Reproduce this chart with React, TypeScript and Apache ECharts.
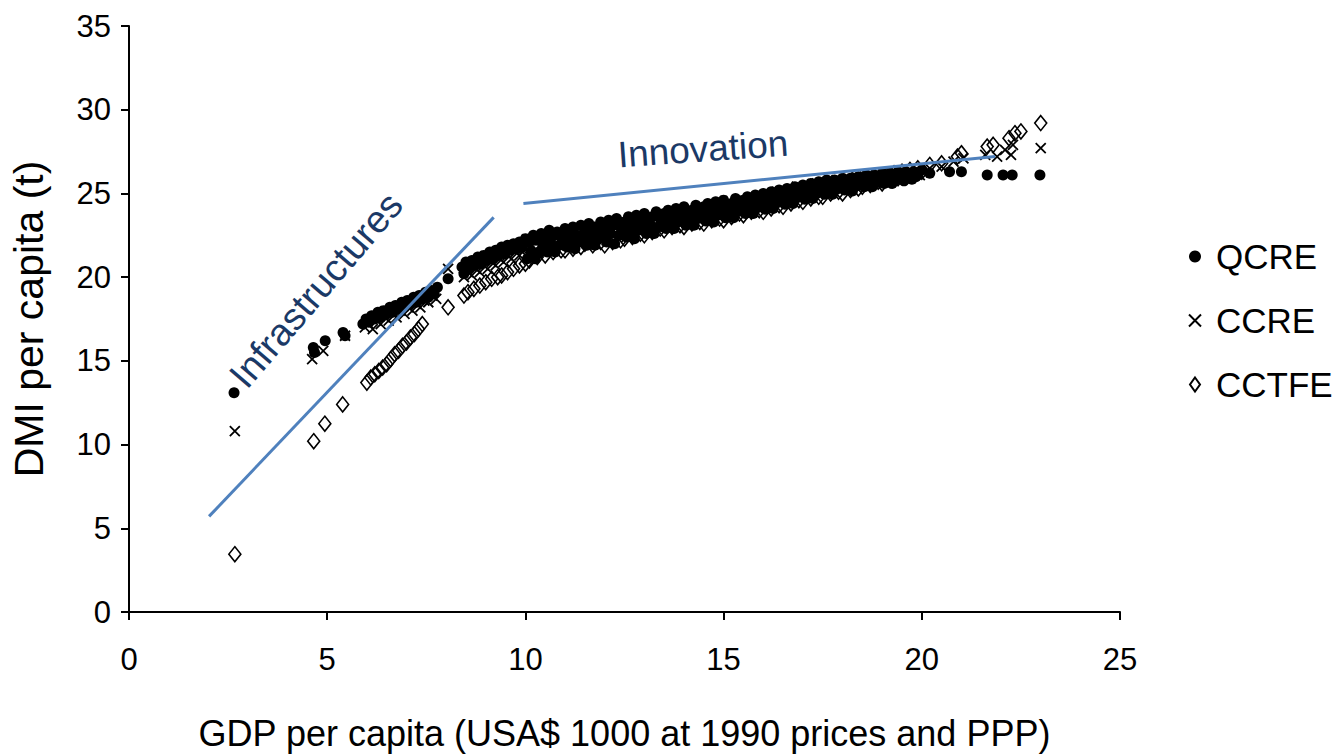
import React, { useEffect, useRef } from "react";
import * as echarts from "echarts";

// ---- Data (x: GDP per capita, y: DMI per capita) ----
const seriesNames = ["QCRE", "CCRE", "CCTFE"];

// QCRE: upper part of the cloud
const qcre: [number, number][] = [
  [2.65, 13.1], [4.65, 15.8], [4.68, 15.5], [4.95, 16.2], [5.4, 16.7], [5.45, 16.5],
  [5.9, 17.2], [5.98, 17.5], [6.05, 17.3], [6.12, 17.7], [6.2, 17.5], [6.28, 17.9], [6.35, 17.6], [6.42, 18.0],
  [6.5, 17.8], [6.58, 18.2], [6.65, 17.9], [6.72, 18.3], [6.8, 18.1], [6.88, 18.5], [6.95, 18.2], [7.02, 18.6],
  [7.1, 18.4], [7.18, 18.8], [7.25, 18.5], [7.32, 18.9], [7.4, 18.7], [7.48, 19.1], [7.55, 18.8], [7.62, 19.2],
  [7.7, 19.0], [7.78, 19.4], [8.05, 19.9],
  [8.4, 20.6], [8.45, 20.2], [8.5, 20.9], [8.58, 20.5], [8.65, 21.0], [8.72, 20.7], [8.8, 21.2], [8.88, 20.8],
  [8.95, 21.3], [9.02, 21.0], [9.1, 21.5], [9.18, 21.1], [9.25, 21.6], [9.32, 21.3], [9.4, 21.8], [9.48, 21.4],
  [9.55, 21.9], [9.62, 21.6], [9.7, 22.0], [9.78, 21.7], [9.85, 22.1], [9.92, 21.8],
  [10.0, 22.3], [10.1, 22.1], [10.2, 22.5], [10.3, 22.2], [10.4, 22.6], [10.5, 22.4], [10.6, 22.8], [10.7, 22.5],
  [10.8, 22.7], [10.9, 22.4], [11.0, 22.9], [11.1, 22.6], [11.2, 23.0], [11.3, 22.5], [11.4, 23.1], [11.5, 22.8],
  [11.6, 23.2], [11.7, 22.7], [11.8, 23.0], [11.9, 23.3], [12.0, 22.9], [12.1, 23.4], [12.2, 23.1], [12.3, 23.5],
  [12.4, 23.0], [12.5, 23.3], [12.6, 23.6], [12.7, 23.2], [12.8, 23.7], [12.9, 23.4], [13.0, 23.8], [13.1, 23.3],
  [13.2, 23.6], [13.3, 23.9], [13.4, 23.5], [13.5, 23.8], [13.6, 24.0], [13.7, 23.6], [13.8, 24.1], [13.9, 23.8],
  [14.0, 24.2], [14.1, 23.7], [14.2, 24.0], [14.3, 24.3], [14.4, 23.9], [14.5, 24.2], [14.6, 24.4], [14.7, 24.0],
  [14.8, 24.5], [14.9, 24.2], [15.0, 24.6], [15.1, 24.1], [15.2, 24.4], [15.3, 24.7], [15.4, 24.3], [15.5, 24.6],
  [15.6, 24.8], [15.7, 24.4], [15.8, 24.9], [15.9, 24.6], [16.0, 25.0], [16.1, 24.7], [16.2, 25.1], [16.3, 24.8],
  [16.4, 25.2], [16.5, 24.9], [16.6, 25.3], [16.7, 25.0], [16.8, 25.4], [16.9, 25.1], [17.0, 25.5], [17.1, 25.2],
  [17.2, 25.6], [17.3, 25.3], [17.4, 25.7], [17.5, 25.4], [17.6, 25.8], [17.7, 25.5], [17.8, 25.8], [17.9, 25.6],
  [18.0, 25.9], [18.1, 25.6], [18.2, 25.9], [18.3, 25.7], [18.4, 26.0], [18.5, 25.8], [18.6, 26.1], [18.7, 25.8],
  [18.8, 26.1], [18.9, 25.9], [19.0, 26.2], [19.1, 25.9], [19.2, 26.2], [19.3, 26.0], [19.4, 26.3], [19.5, 26.0],
  [19.6, 26.3], [19.7, 26.1], [19.8, 26.3], [19.9, 26.1], [20.0, 26.4], [20.2, 26.2], [20.7, 26.3], [21.0, 26.3],
  [21.65, 26.1], [22.05, 26.1], [22.28, 26.1], [22.98, 26.1],
  // QCRE observations lying in the lower half of the cloud
  [10.05, 21.1], [10.15, 21.55], [10.25, 21.1], [10.35, 21.5], [10.45, 21.85], [10.55, 21.5], [10.65, 21.95],
  [10.75, 21.5], [10.85, 21.9], [10.95, 22.2], [11.05, 21.8], [11.15, 22.2], [11.25, 21.7], [11.35, 22.1],
  [11.45, 22.4], [11.55, 21.9], [11.65, 22.4], [11.75, 21.9], [11.85, 22.3], [11.95, 22.6], [12.05, 22.1],
  [12.15, 22.6], [12.25, 22.0], [12.35, 22.5], [12.45, 22.8], [12.55, 22.4], [12.65, 22.85], [12.75, 22.3],
  [12.85, 22.8], [12.95, 23.1], [13.05, 22.6], [13.15, 23.05], [13.25, 22.6], [13.35, 23.0], [13.45, 23.3],
  [13.55, 22.9], [13.65, 23.3], [13.75, 22.9], [13.85, 23.3], [13.95, 23.55], [14.05, 23.1], [14.15, 23.5],
  [14.25, 23.1], [14.35, 23.5], [14.45, 23.7], [14.55, 23.35], [14.65, 23.7], [14.75, 23.3], [14.85, 23.7],
  [14.95, 23.9], [15.05, 23.55], [15.15, 23.95], [15.25, 23.55], [15.35, 23.9], [15.45, 24.15], [15.55, 23.8],
  [15.65, 24.2], [15.75, 23.8], [15.85, 24.15], [15.95, 24.4], [16.05, 24.05], [16.15, 24.45], [16.25, 24.1],
  [16.35, 24.45], [16.45, 24.7], [16.55, 24.35], [16.65, 24.75], [16.75, 24.4], [16.85, 24.75], [16.95, 25.0],
  [17.05, 24.65], [17.15, 25.05], [17.25, 24.7], [17.35, 25.0], [17.45, 25.25], [17.55, 24.95], [17.65, 25.3],
  [17.75, 24.95], [17.85, 25.25], [17.95, 25.45], [18.05, 25.2], [18.15, 25.5], [18.25, 25.15], [18.35, 25.45],
  [18.45, 25.65], [18.55, 25.4], [18.65, 25.7], [18.75, 25.4], [18.85, 25.65], [18.95, 25.8], [19.05, 25.6],
  [19.15, 25.85], [19.25, 25.6], [19.35, 25.8], [19.45, 25.95], [19.55, 25.75], [19.65, 25.95], [19.75, 25.85],
  [19.85, 26.0],
];

const ccre: [number, number][] = [
  [2.67, 10.8], [4.62, 15.1], [4.9, 15.6], [5.45, 16.5],
  [5.95, 17.0], [6.05, 17.2], [6.15, 16.9], [6.25, 17.4], [6.35, 17.2], [6.45, 17.6], [6.55, 17.4], [6.65, 17.8],
  [6.75, 17.6], [6.85, 18.0], [6.95, 17.8], [7.05, 18.2], [7.15, 18.0], [7.25, 18.4], [7.35, 18.2], [7.45, 18.6],
  [7.55, 18.5], [7.65, 18.9], [7.75, 18.7], [8.05, 20.5],
  [8.45, 20.0], [8.55, 20.3], [8.65, 20.1], [8.75, 20.5], [8.85, 20.3], [8.95, 20.7], [9.05, 20.5], [9.15, 20.9],
  [9.25, 20.7], [9.35, 21.1], [9.45, 20.9], [9.55, 21.3], [9.65, 21.1], [9.75, 21.5], [9.85, 21.3], [9.95, 21.6],
  [10.05, 21.2], [10.15, 21.9], [10.25, 21.5], [10.35, 22.2], [10.45, 21.8], [10.55, 21.6], [10.65, 22.3], [10.75, 21.9],
  [10.85, 22.6], [10.95, 22.1], [11.05, 21.9], [11.15, 22.6], [11.25, 22.2], [11.35, 22.9], [11.45, 22.3], [11.55, 22.0],
  [11.65, 22.8], [11.75, 22.4], [11.85, 23.0], [11.95, 22.3], [12.05, 22.2], [12.15, 22.9], [12.25, 22.5], [12.35, 23.2],
  [12.45, 22.6], [12.55, 22.4], [12.65, 23.2], [12.75, 22.8], [12.85, 23.5], [12.95, 22.9], [13.05, 22.8], [13.15, 23.5],
  [13.25, 23.1], [13.35, 23.7], [13.45, 23.2], [13.55, 23.0], [13.65, 23.7], [13.75, 23.3], [13.85, 23.9], [13.95, 23.4],
  [14.05, 23.3], [14.15, 23.9], [14.25, 23.5], [14.35, 24.1], [14.45, 23.6], [14.55, 23.5], [14.65, 24.1], [14.75, 23.7],
  [14.85, 24.3], [14.95, 23.8], [15.05, 23.8], [15.15, 24.3], [15.25, 23.9], [15.35, 24.5], [15.45, 24.0], [15.55, 24.1],
  [15.65, 24.6], [15.75, 24.2], [15.85, 24.8], [15.95, 24.3], [16.05, 24.3], [16.15, 24.9], [16.25, 24.5], [16.35, 25.1],
  [16.45, 24.6], [16.55, 24.7], [16.65, 25.2], [16.75, 24.8], [16.85, 25.4], [16.95, 24.9], [17.05, 24.9], [17.15, 25.4],
  [17.25, 25.0], [17.35, 25.6], [17.45, 25.1], [17.55, 25.2], [17.65, 25.7], [17.75, 25.3], [17.85, 25.8], [17.95, 25.4],
  [18.05, 25.4], [18.15, 25.8], [18.25, 25.5], [18.35, 26.0], [18.45, 25.6], [18.55, 25.6], [18.65, 26.0], [18.75, 25.7],
  [18.85, 26.1], [18.95, 25.8], [19.05, 25.8], [19.15, 26.1], [19.25, 25.9], [19.35, 26.2], [19.45, 25.9], [19.55, 26.0],
  [19.65, 26.3], [19.75, 26.0], [19.85, 26.3], [19.95, 26.1],
  [20.2, 26.5], [20.5, 26.6], [20.8, 26.9], [21.05, 27.1], [21.6, 27.3], [21.9, 27.2], [22.1, 27.6], [22.25, 27.3],
  [22.3, 27.9], [23.0, 27.7],
];

const cctfe: [number, number][] = [
  [2.67, 3.45], [4.66, 10.2], [4.94, 11.25], [5.39, 12.4],
  [6.0, 13.7], [6.1, 14.0], [6.2, 14.2], [6.3, 14.4], [6.4, 14.6], [6.5, 14.8], [6.6, 15.1], [6.7, 15.4],
  [6.8, 15.6], [6.9, 15.9], [7.0, 16.1], [7.1, 16.4], [7.2, 16.6], [7.3, 16.9], [7.4, 17.2],
  [8.05, 18.2], [8.45, 18.9], [8.55, 19.1], [8.7, 19.3], [8.85, 19.5], [9.0, 19.7], [9.15, 19.9], [9.3, 20.0],
  [9.4, 20.1], [9.55, 20.3], [9.7, 20.5], [9.85, 20.7], [10.0, 20.8],
  [10.1, 21.0], [10.2, 21.4], [10.3, 21.2], [10.4, 21.6], [10.5, 21.3], [10.6, 21.7], [10.7, 21.5], [10.8, 21.9],
  [10.9, 21.6], [11.0, 21.6], [11.1, 22.1], [11.2, 21.7], [11.3, 22.3], [11.4, 21.8], [11.5, 22.0], [11.6, 22.5],
  [11.7, 21.9], [11.8, 22.4], [11.9, 22.1], [12.0, 21.9], [12.1, 22.6], [12.2, 22.1], [12.3, 22.8], [12.4, 22.2],
  [12.5, 22.3], [12.6, 22.9], [12.7, 22.4], [12.8, 23.0], [12.9, 22.6], [13.0, 22.5], [13.1, 23.1], [13.2, 22.7],
  [13.3, 23.3], [13.4, 22.9], [13.5, 22.8], [13.6, 23.4], [13.7, 23.0], [13.8, 23.5], [13.9, 23.1], [14.0, 23.0],
  [14.1, 23.6], [14.2, 23.2], [14.3, 23.7], [14.4, 23.3], [14.5, 23.2], [14.6, 23.8], [14.7, 23.4], [14.8, 23.9],
  [14.9, 23.5], [15.0, 23.4], [15.1, 24.0], [15.2, 23.6], [15.3, 24.2], [15.4, 23.8], [15.5, 23.7], [15.6, 24.3],
  [15.7, 23.9], [15.8, 24.5], [15.9, 24.0], [16.0, 23.9], [16.1, 24.5], [16.2, 24.1], [16.3, 24.7], [16.4, 24.3],
  [16.5, 24.2], [16.6, 24.8], [16.7, 24.4], [16.8, 25.0], [16.9, 24.6], [17.0, 24.5], [17.1, 25.1], [17.2, 24.7],
  [17.3, 25.3], [17.4, 24.8], [17.5, 24.8], [17.6, 25.4], [17.7, 25.0], [17.8, 25.5], [17.9, 25.1], [18.0, 25.0],
  [18.1, 25.5], [18.2, 25.2], [18.3, 25.7], [18.4, 25.3], [18.5, 25.4], [18.6, 25.9], [18.7, 25.5], [18.8, 26.0],
  [18.9, 25.7], [19.0, 25.6], [19.1, 26.1], [19.2, 25.8], [19.3, 26.2], [19.4, 25.9], [19.5, 26.3], [19.6, 26.0],
  [19.7, 26.4], [19.8, 26.2], [19.9, 26.5], [20.0, 26.3], [20.2, 26.7], [20.5, 26.8], [20.9, 27.2], [21.0, 27.4],
  [21.65, 27.8], [21.8, 27.9], [22.2, 28.3], [22.35, 28.6], [22.5, 28.7], [23.0, 29.2],
];

// trend lines drawn on the chart (data coordinates)
const infrastructureLine: [number, number][] = [[2.02, 5.71], [9.2, 23.57]];
const innovationLine: [number, number][] = [[9.95, 24.4], [21.85, 27.2]];

const xTicks = { min: 0, max: 25, interval: 5 };
const yTicks = { min: 0, max: 35, interval: 5 };

const FONT = "Arial, 'Liberation Sans', sans-serif";
const NAVY = "#1B3966";
const LINE_BLUE = "#4F81BD";

export default function App() {
  const ref = useRef<HTMLDivElement>(null);

  useEffect(() => {
    if (!ref.current) return;
    const chart = echarts.init(ref.current, undefined, { renderer: "svg" });
    const axisCommon = {
      axisLine: { show: true, onZero: false, lineStyle: { color: "#000", width: 2 } },
      axisTick: { show: true, inside: false, length: 8, lineStyle: { color: "#000", width: 2 } },
      splitLine: { show: false },
    };
    chart.setOption({
      animation: false,
      backgroundColor: "#fff",
      grid: { left: 128, top: 26, right: 221, bottom: 134, containLabel: false },
      xAxis: {
        type: "value",
        ...xTicks,
        name: "GDP per capita (USA$ 1000 at 1990 prices and PPP)",
        nameLocation: "middle",
        nameGap: 103,
        nameTextStyle: { color: "#000", fontSize: 36, fontFamily: FONT },
        ...axisCommon,
        axisLabel: { color: "#000", fontSize: 31, fontFamily: FONT, margin: 32 },
      },
      yAxis: {
        type: "value",
        ...yTicks,
        name: "DMI per capita (t)",
        nameLocation: "middle",
        nameGap: 80,
        nameTextStyle: { color: "#000", fontSize: 41, fontFamily: FONT },
        ...axisCommon,
        axisLabel: { color: "#000", fontSize: 31, fontFamily: FONT, margin: 18 },
      },
      legend: {
        data: [
          { name: seriesNames[0] },
          { name: seriesNames[1] },
          { name: seriesNames[2], icon: "path://M5,0L10,7L5,14L0,7Z" },
        ],
        orient: "vertical",
        left: 1183,
        top: 234,
        itemWidth: 12,
        itemHeight: 14,
        itemGap: 29,
        textStyle: { color: "#000", fontSize: 35, fontFamily: FONT, padding: [0, 0, 0, 10] },
        selectedMode: false,
      },
      series: [
        {
          name: seriesNames[0],
          type: "scatter",
          data: qcre,
          symbol: "circle",
          symbolSize: 11,
          itemStyle: { color: "#000", opacity: 1 },
          z: 2,
        },
        {
          name: seriesNames[1],
          type: "scatter",
          data: ccre,
          symbol: "path://M0,0L10,10M10,0L0,10",
          symbolSize: 10,
          itemStyle: { color: "rgba(0,0,0,0)", borderColor: "#000", borderWidth: 1.8, opacity: 1 },
          z: 3,
        },
        {
          name: seriesNames[2],
          type: "scatter",
          data: cctfe,
          symbol: "diamond",
          symbolSize: [12, 15],
          itemStyle: { color: "rgba(0,0,0,0)", borderColor: "#000", borderWidth: 1.6, opacity: 1 },
          z: 4,
        },
        {
          name: "Infrastructures line",
          type: "line",
          data: infrastructureLine,
          symbol: "none",
          silent: true,
          lineStyle: { color: LINE_BLUE, width: 3 },
          z: 5,
        },
        {
          name: "Innovation line",
          type: "line",
          data: innovationLine,
          symbol: "none",
          silent: true,
          lineStyle: { color: LINE_BLUE, width: 3 },
          z: 5,
        },
      ],
      graphic: [
        {
          type: "text",
          x: 316,
          y: 290,
          rotation: (49.4 * Math.PI) / 180,
          style: {
            text: "Infrastructures",
            fill: NAVY,
            fontSize: 38,
            fontFamily: FONT,
            align: "center",
            verticalAlign: "middle",
          },
          z: 10,
        },
        {
          type: "text",
          x: 703,
          y: 149,
          rotation: (4 * Math.PI) / 180,
          style: {
            text: "Innovation",
            fill: NAVY,
            fontSize: 37,
            fontFamily: FONT,
            align: "center",
            verticalAlign: "middle",
          },
          z: 10,
        },
      ],
    });
    return () => chart.dispose();
  }, []);

  return (
    <div
      ref={ref}
      style={{ position: "fixed", left: 0, top: 0, width: 1341, height: 756, background: "#fff" }}
    />
  );
}
